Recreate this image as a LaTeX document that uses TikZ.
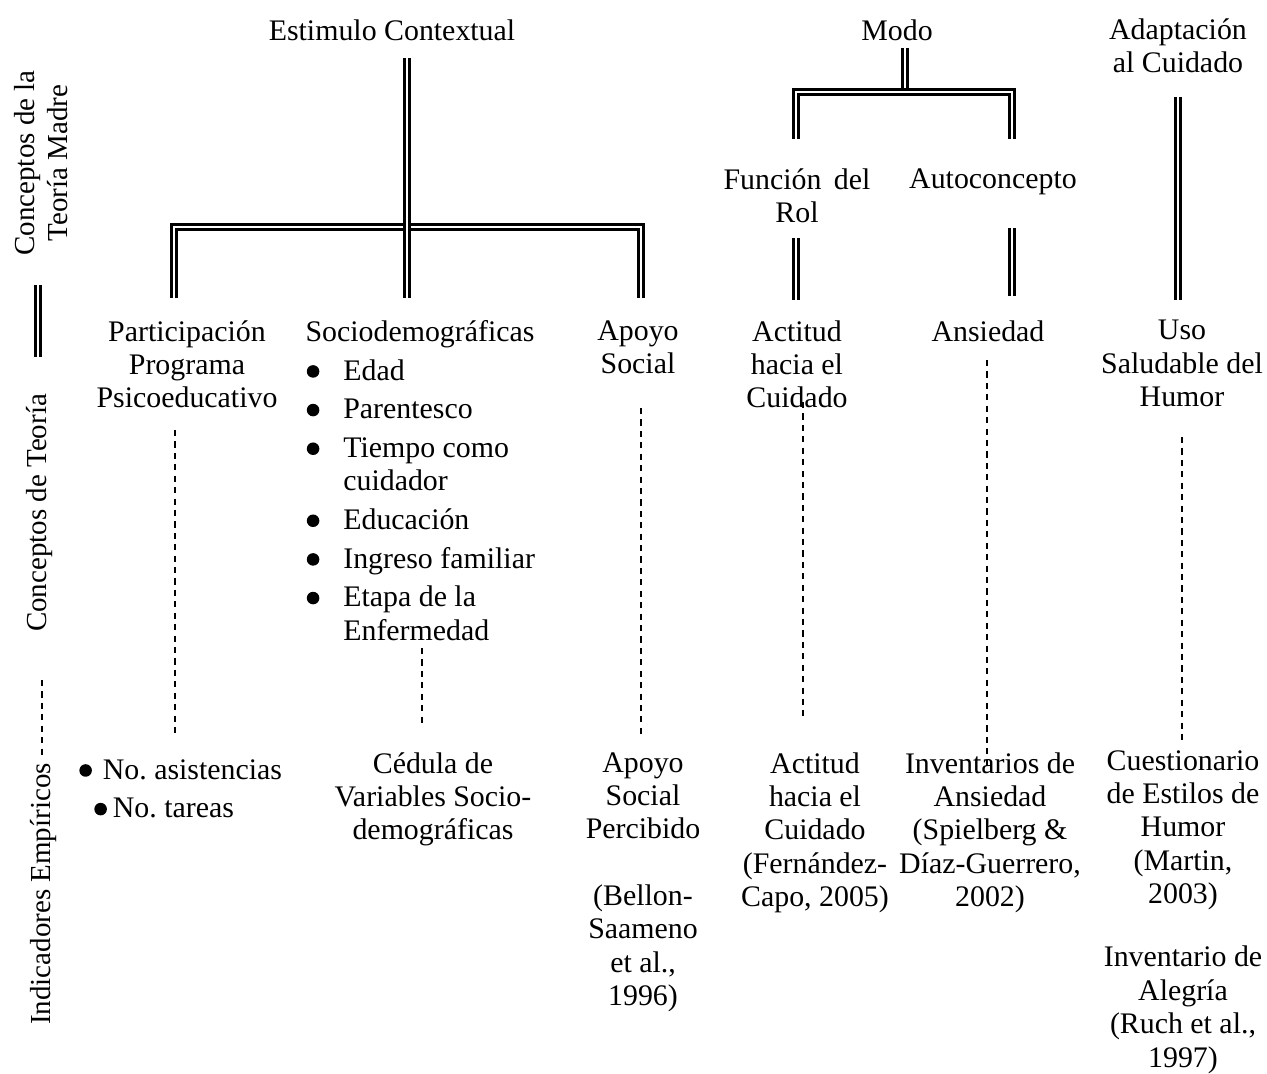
\documentclass[tikz,border=0pt]{standalone}
\usepackage{fontspec}
\setmainfont{Liberation Serif}
\newcommand{\bul}{\raisebox{0.08em}{\tikz\fill (0,0) circle (0.21em);}}

\begin{document}
\begin{tikzpicture}[x=0.02cm, y=-0.02cm,
    txt/.style={inner sep=0pt, align=center, anchor=north, font=\fontsize{17}{19}\selectfont},
    side/.style={inner sep=0pt, align=center, rotate=90, font=\fontsize{16.5}{19}\selectfont},
    dbl/.style={double, line width=1.4pt, double distance=1.4pt},
    dsh/.style={line width=1.2pt, dash pattern=on 3.5pt off 3pt}]
        \useasboundingbox (0,0) rectangle (1267,1074);
        % side labels
        \node[side] (tm) at (41,163) {Conceptos de la\\Teoría Madre};
        \node[side] (ct) at (40,513) {Conceptos de Teoría};
        \node[side] (ie) at (44,894) {Indicadores Empíricos};
        \coordinate (lgA) at (38,285);
        \coordinate (lgB) at (38,357);
        \coordinate (lgC) at (42,680);
        \coordinate (lgD) at (42,757);
        \draw[dbl] (lgA) -- (lgB);
        \draw[dsh] (lgC) -- (lgD);
        % concepts of the mother theory
        \node[txt] (ec) at (392,19) {Estimulo Contextual};
        \node[txt] (modo) at (897,19) {Modo};
        \node[txt] (adap) at (1178,18) {Adaptación\\al Cuidado};
        \node[txt] (fr) at (797,168) {Función\,\ del\\Rol};
        \node[txt] (auto) at (993,168) {Autoconcepto};
        % concepts of the theory
        \node[txt] (pp) at (187,320) {Participación\\Programa\\Psicoeducativo};
        \node[txt] (socio) at (420,320) {Sociodemográficas};
        \node[txt, anchor=north west, align=left] (lista) at (343,359)
            {\llap{\bul\hspace{0.48cm}}Edad\\[3pt]
             \llap{\bul\hspace{0.48cm}}Parentesco\\[3pt]
             \llap{\bul\hspace{0.48cm}}Tiempo como\\cuidador\\[3pt]
             \llap{\bul\hspace{0.48cm}}Educación\\[3pt]
             \llap{\bul\hspace{0.48cm}}Ingreso familiar\\[3pt]
             \llap{\bul\hspace{0.48cm}}Etapa de la\\Enfermedad};
        \node[txt] (as) at (638,320) {Apoyo\\Social};
        \node[txt] (act) at (797,320) {Actitud\\hacia el\\Cuidado};
        \node[txt] (ans) at (988,320) {Ansiedad};
        \node[txt] (uso) at (1182,320) {Uso\\Saludable del\\Humor};
        % empirical indicators
        \node[txt, anchor=north west, align=left] (ind) at (79,759)
            {\bul\hspace{0.22cm}No.\ asistencias\\[3pt]
             \hspace{0.3cm}\bul\hspace{0.12cm}No.\ tareas};
        \node[txt] (ced) at (433,752) {Cédula de\\Variables Socio-\\demográficas};
        \node[txt] (asp) at (643,752) {Apoyo\\Social\\Percibido\\[19pt](Bellon-\\Saameno\\et al.,\\1996)};
        \node[txt] (acp) at (815,752) {Actitud\\hacia el\\Cuidado\\(Fernández-\\Capo, 2005)};
        \node[txt] (inv) at (990,752) {Inventarios de\\Ansiedad\\(Spielberg \&\\Díaz-Guerrero,\\2002)};
        \node[txt] (cue) at (1183,750) {Cuestionario\\de Estilos de\\Humor\\(Martin,\\2003)\\[17pt]Inventario de\\Alegría\\(Ruch et al.,\\1997)};
        % double lines
        \coordinate (ecA) at (407,58);
        \coordinate (ecB) at (407,227);
        \coordinate (ecC) at (407,298);
        \coordinate (ppA) at (174,298);
        \coordinate (asA) at (641,298);
        \draw[dbl] (ppA) |- (ecB) -| (asA);
        \draw[dbl] (ecA) -- (ecC);
        \coordinate (moA) at (905,48);
        \coordinate (moB) at (905,92);
        \coordinate (frA) at (796,139);
        \coordinate (auA) at (1012,139);
        \draw[dbl] (moA) -- (moB);
        \draw[dbl] (frA) |- (moB) -| (auA);
        \coordinate (frB) at (796,238);
        \coordinate (frC) at (796,300);
        \coordinate (auB) at (1012,228);
        \coordinate (auC) at (1012,296);
        \coordinate (adA) at (1178,97);
        \coordinate (adB) at (1178,300);
        \draw[dbl] (frB) -- (frC);
        \draw[dbl] (auB) -- (auC);
        \draw[dbl] (adA) -- (adB);
        % dashed lines
        \draw[dsh] (175,430) -- (175,735);
        \draw[dsh] (422,648) -- (422,725);
        \draw[dsh] (641,408) -- (641,738);
        \draw[dsh] (803,402) -- (803,720);
        \draw[dsh] (987,360) -- (987,770);
        \draw[dsh] (1182,437) -- (1182,745);
    \end{tikzpicture}
\end{document}
